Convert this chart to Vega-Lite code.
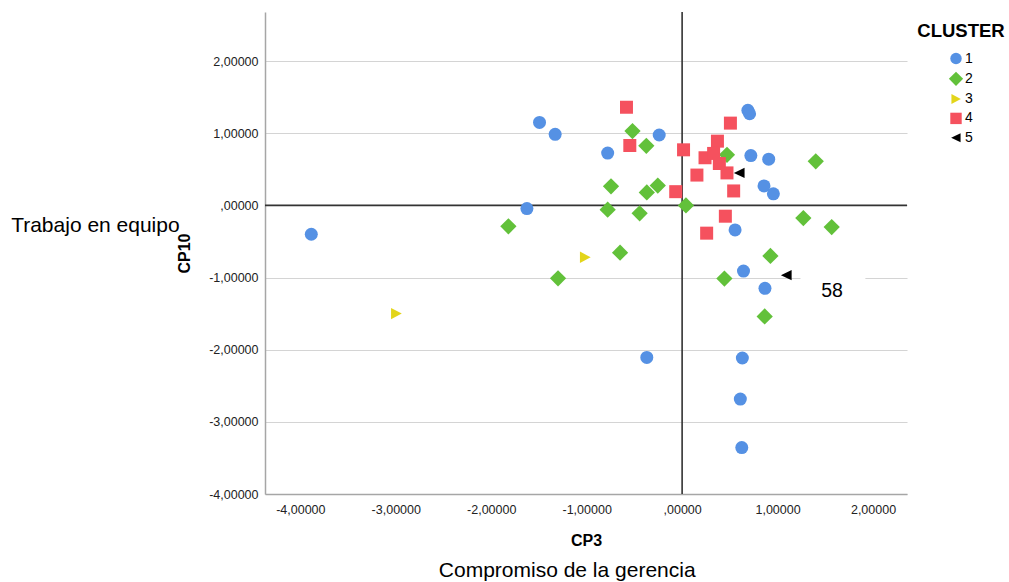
{
  "$schema": "https://vega.github.io/schema/vega-lite/v6.json",
  "width": 642,
  "height": 482,
  "autosize": {"type": "none"},
  "padding": {"left": 265, "top": 12, "right": 102, "bottom": 88},
  "background": "white",
  "config": {
    "view": {"stroke": null},
    "font": "Liberation Sans"
  },
  "datasets": {
    "points": [
      {"CLUSTER": "1", "CP3": -3.885, "CP10": -0.40},
      {"CLUSTER": "1", "CP3": -1.494, "CP10": 1.15},
      {"CLUSTER": "1", "CP3": -1.33, "CP10": 0.985},
      {"CLUSTER": "1", "CP3": -1.626, "CP10": -0.045},
      {"CLUSTER": "1", "CP3": -0.78, "CP10": 0.725},
      {"CLUSTER": "1", "CP3": -0.24, "CP10": 0.975},
      {"CLUSTER": "1", "CP3": -0.37, "CP10": -2.107},
      {"CLUSTER": "1", "CP3": 0.689, "CP10": 1.317},
      {"CLUSTER": "1", "CP3": 0.707, "CP10": 1.27},
      {"CLUSTER": "1", "CP3": 0.72, "CP10": 0.69},
      {"CLUSTER": "1", "CP3": 0.907, "CP10": 0.64},
      {"CLUSTER": "1", "CP3": 0.858, "CP10": 0.27},
      {"CLUSTER": "1", "CP3": 0.956, "CP10": 0.16},
      {"CLUSTER": "1", "CP3": 0.555, "CP10": -0.34},
      {"CLUSTER": "1", "CP3": 0.643, "CP10": -0.91},
      {"CLUSTER": "1", "CP3": 0.868, "CP10": -1.15},
      {"CLUSTER": "1", "CP3": 0.631, "CP10": -2.115},
      {"CLUSTER": "1", "CP3": 0.61, "CP10": -2.685},
      {"CLUSTER": "1", "CP3": 0.625, "CP10": -3.357},
      {"CLUSTER": "2", "CP3": -0.52, "CP10": 1.03},
      {"CLUSTER": "2", "CP3": -0.375, "CP10": 0.825},
      {"CLUSTER": "2", "CP3": -0.745, "CP10": 0.265},
      {"CLUSTER": "2", "CP3": -0.255, "CP10": 0.275},
      {"CLUSTER": "2", "CP3": -0.37, "CP10": 0.18},
      {"CLUSTER": "2", "CP3": -0.78, "CP10": -0.06},
      {"CLUSTER": "2", "CP3": -0.445, "CP10": -0.11},
      {"CLUSTER": "2", "CP3": -1.82, "CP10": -0.29},
      {"CLUSTER": "2", "CP3": -0.65, "CP10": -0.655},
      {"CLUSTER": "2", "CP3": -1.30, "CP10": -1.01},
      {"CLUSTER": "2", "CP3": 0.04, "CP10": 0.0},
      {"CLUSTER": "2", "CP3": 0.47, "CP10": 0.70},
      {"CLUSTER": "2", "CP3": 1.40, "CP10": 0.61},
      {"CLUSTER": "2", "CP3": 1.27, "CP10": -0.175},
      {"CLUSTER": "2", "CP3": 1.567, "CP10": -0.30},
      {"CLUSTER": "2", "CP3": 0.925, "CP10": -0.70},
      {"CLUSTER": "2", "CP3": 0.443, "CP10": -1.014},
      {"CLUSTER": "2", "CP3": 0.865, "CP10": -1.54},
      {"CLUSTER": "3", "CP3": -2.995, "CP10": -1.50},
      {"CLUSTER": "3", "CP3": -1.016, "CP10": -0.72},
      {"CLUSTER": "4", "CP3": -0.583, "CP10": 1.36},
      {"CLUSTER": "4", "CP3": -0.548, "CP10": 0.83},
      {"CLUSTER": "4", "CP3": 0.015, "CP10": 0.77},
      {"CLUSTER": "4", "CP3": 0.506, "CP10": 1.14},
      {"CLUSTER": "4", "CP3": 0.37, "CP10": 0.89},
      {"CLUSTER": "4", "CP3": 0.24, "CP10": 0.66},
      {"CLUSTER": "4", "CP3": 0.33, "CP10": 0.72},
      {"CLUSTER": "4", "CP3": 0.39, "CP10": 0.58},
      {"CLUSTER": "4", "CP3": 0.155, "CP10": 0.42},
      {"CLUSTER": "4", "CP3": 0.47, "CP10": 0.45},
      {"CLUSTER": "4", "CP3": 0.54, "CP10": 0.20},
      {"CLUSTER": "4", "CP3": -0.067, "CP10": 0.19},
      {"CLUSTER": "4", "CP3": 0.453, "CP10": -0.15},
      {"CLUSTER": "4", "CP3": 0.257, "CP10": -0.385},
      {"CLUSTER": "5", "CP3": 0.60, "CP10": 0.45},
      {"CLUSTER": "5", "CP3": 1.093, "CP10": -0.967}
    ],
    "refs": [{"zero": 0}],
    "labelbox": [{"x1": 1.24, "x2": 1.92, "y1": -0.86, "y2": -1.45}],
    "notes": [
      {"text": "58", "CP3": 1.571, "CP10": -1.18, "size": "s"},
      {"text": "Trabajo en equipo", "CP3": -6.147, "CP10": -0.29, "size": "l"},
      {"text": "Compromiso de la gerencia", "CP3": -1.204, "CP10": -5.07, "size": "l"}
    ]
  },
  "layer": [
    {
      "data": {"name": "refs"},
      "mark": {"type": "rule", "color": "#333333", "strokeWidth": 1.6},
      "encoding": {"x": {"field": "zero", "type": "quantitative", "scale": {"domain": [-4.37, 2.356], "nice": false, "zero": false}}}
    },
    {
      "data": {"name": "refs"},
      "mark": {"type": "rule", "color": "#333333", "strokeWidth": 1.6},
      "encoding": {"y": {"field": "zero", "type": "quantitative", "scale": {"domain": [-4.0, 2.68], "nice": false, "zero": false}}}
    },
    {
      "data": {"name": "points"},
      "mark": {"type": "point", "filled": true, "opacity": 1, "size": 169},
      "encoding": {
        "x": {
          "field": "CP3", "type": "quantitative",
          "scale": {"domain": [-4.37, 2.356], "nice": false, "zero": false},
          "axis": {
            "values": [-4, -3, -2, -1, 0, 1, 2],
            "grid": false, "ticks": false,
            "domainColor": "#a6a6a6", "domainWidth": 1.5,
            "labelExpr": "(datum.value < 0 ? '-' : '') + (datum.value == 0 ? ',00000' : replace(format(abs(datum.value), '.5f'), '.', ','))",
            "labelFontSize": 12.5, "labelColor": "#222222", "labelPadding": 9,
            "title": "CP3", "titleFontSize": 16, "titleFontWeight": "bold",
            "titleColor": "#000000", "titlePadding": 17
          }
        },
        "y": {
          "field": "CP10", "type": "quantitative",
          "scale": {"domain": [-4.0, 2.68], "nice": false, "zero": false},
          "axis": {
            "values": [-4, -3, -2, -1, 0, 1, 2],
            "grid": true, "gridColor": "#d4d4d4", "gridWidth": 1.2, "ticks": false,
            "domainColor": "#a6a6a6", "domainWidth": 1.5,
            "labelExpr": "(datum.value < 0 ? '-' : '') + (datum.value == 0 ? ',00000' : replace(format(abs(datum.value), '.5f'), '.', ','))",
            "labelFontSize": 12.5, "labelColor": "#222222", "labelPadding": 7,
            "title": "CP10", "titleFontSize": 16, "titleFontWeight": "bold",
            "titleColor": "#000000", "titlePadding": 16
          }
        },
        "color": {
          "field": "CLUSTER", "type": "nominal",
          "scale": {"domain": ["1", "2", "3", "4", "5"], "range": ["#5591E4", "#62C13A", "#E3D51A", "#F5515E", "#000000"]},
          "legend": {
            "title": "CLUSTER",
            "orient": "none", "legendX": 652, "legendY": 10,
            "titleFontSize": 18.5, "titleFontWeight": "bold", "titleColor": "#000000",
            "titleAnchor": "middle", "titlePadding": 11,
            "labelFontSize": 14, "labelColor": "#000000", "labelOffset": 2,
            "symbolSize": 130,
            "rowPadding": 5.3, "padding": 0
          }
        },
        "shape": {
          "field": "CLUSTER", "type": "nominal",
          "scale": {"domain": ["1", "2", "3", "4", "5"], "range": ["circle", "M0,-1.25L1.25,0L0,1.25L-1.25,0Z", "M-0.8,-0.88L-0.8,0.88L0.85,0Z", "square", "M0.8,-0.8L0.8,0.8L-0.85,0Z"]}
        }
      }
    },
    {
      "data": {"name": "labelbox"},
      "mark": {"type": "rect", "color": "white", "opacity": 1},
      "encoding": {
        "x": {"field": "x1", "type": "quantitative"},
        "x2": {"field": "x2"},
        "y": {"field": "y1", "type": "quantitative"},
        "y2": {"field": "y2"}
      }
    },
    {
      "data": {"name": "notes"},
      "mark": {"type": "text", "color": "#000000", "align": "center", "baseline": "middle"},
      "encoding": {
        "x": {"field": "CP3", "type": "quantitative"},
        "y": {"field": "CP10", "type": "quantitative"},
        "text": {"field": "text"},
        "size": {"field": "size", "type": "nominal", "scale": {"type": "ordinal", "domain": ["s", "l"], "range": [19.5, 21]}, "legend": null}
      }
    }
  ]
}
